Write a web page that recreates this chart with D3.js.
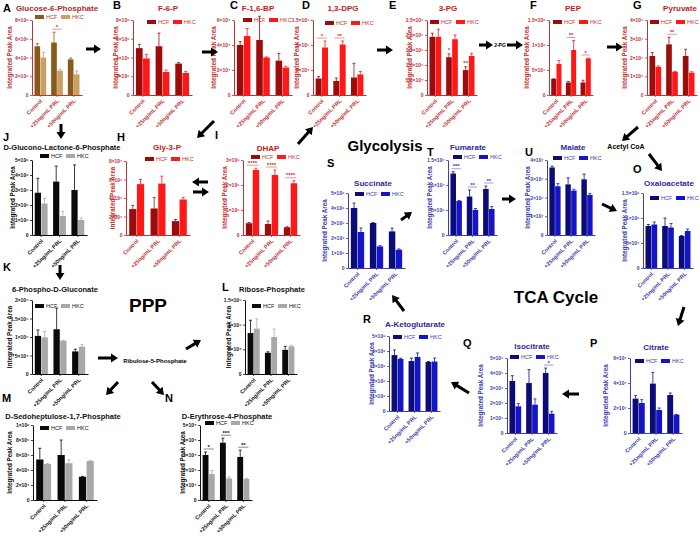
<!DOCTYPE html>
<html>
<head>
<meta charset="utf-8">
<script src="https://cdn.jsdelivr.net/npm/d3@7"></script>
<style>
body { margin: 0; background: #fff; }
svg { display: block; font-family: "Liberation Sans", Arial, sans-serif; }
</style>
</head>
<body>
<svg id="fig" width="700" height="536"></svg>
<script>
// ---- data: rows are [HCF, HKC], columns follow groups ----
const groups = ["Control", "+25ng/mL PRL", "+50ng/mL PRL"];
const seriesNames = ["HCF", "HKC"];

const g6pMean = [[5.2e6, 5.6e6, 3.8e6], [4.0e6, 2.6e6, 2.2e6]];
const g6pSem = [[0.3e6, 1.1e6, 0.15e6], [0.55e6, 0.15e6, 0.35e6]];
const g6pTicks = [0, 2e6, 4e6, 6e6, 8e6];
const g6pLabels = ["0", "2×10⁶", "4×10⁶", "6×10⁶", "8×10⁶"];
const g6pStars = ["", "*", ""];

const f6pMean = [[5.0e6, 5.2e6, 3.35e6], [3.9e6, 2.45e6, 2.35e6]];
const f6pSem = [[0.4e6, 1.4e6, 0.1e6], [0.45e6, 0.2e6, 0.15e6]];
const f6pTicks = [0, 2e6, 4e6, 6e6, 8e6];
const f6pLabels = ["0", "2×10⁶", "4×10⁶", "6×10⁶", "8×10⁶"];

const fbpMean = [[4.0e4, 4.4e4, 2.75e4], [4.72e4, 3.0e4, 2.2e4]];
const fbpSem = [[0.27e4, 1.9e4, 0.58e4], [0.6e4, 0.05e4, 0.1e4]];
const fbpTicks = [0, 2e4, 4e4, 6e4];
const fbpLabels = ["0", "2×10⁴", "4×10⁴", "6×10⁴"];

const dpgMean = [[3.3e4, 2.8e4, 3.5e4], [9.5e4, 1.01e5, 4.1e4]];
const dpgSem = [[0.4e4, 0.6e4, 2.85e4], [1.3e4, 0.7e4, 0.6e4]];
const dpgTicks = [0, 5e4, 1e5, 1.5e5];
const dpgLabels = ["0", "5×10⁴", "1×10⁵", "1.5×10⁵"];
const dpgStars = ["*", "**", ""];

const pg3Mean = [[1.94e5, 1.26e5, 0.83e5], [1.94e5, 1.86e5, 1.30e5]];
const pg3Sem = [[0.12e5, 0.11e5, 0.11e5], [0.25e5, 0.14e5, 0.09e5]];
const pg3Ticks = [0, 5e4, 1e5, 1.5e5, 2e5, 2.5e5];
const pg3Labels = ["0", "5.0×10⁴", "1.0×10⁵", "1.5×10⁵", "2.0×10⁵", "2.5×10⁵"];
const pg3Stars = ["", "*", "**"];

const pepMean = [[3.2e5, 2.5e5, 2.5e5], [6.2e5, 9.0e5, 7.3e5]];
const pepSem = [[0.05e5, 0.2e5, 0.45e5], [0.7e5, 1.9e5, 0.1e5]];
const pepTicks = [0, 5e5, 1e6, 1.5e6];
const pepLabels = ["0", "5×10⁵", "1×10⁶", "1.5×10⁶"];
const pepStars = ["", "**", "*"];

const pyrMean = [[2.08e5, 2.7e5, 2.08e5], [1.5e5, 1.24e5, 1.19e5]];
const pyrSem = [[0.18e5, 0.38e5, 0.36e5], [0.05e5, 0.02e5, 0.05e5]];
const pyrTicks = [0, 1e5, 2e5, 3e5, 4e5];
const pyrLabels = ["0", "1×10⁵", "2×10⁵", "3×10⁵", "4×10⁵"];
const pyrStars = ["", "**", ""];

const glpMean = [[2.8e5, 2.87e5, 1.5e5], [5.5e5, 5.56e5, 3.84e5]];
const glpSem = [[0.4e5, 1.2e5, 0.18e5], [0.5e5, 0.8e5, 0.2e5]];
const glpTicks = [0, 2e5, 4e5, 6e5, 8e5];
const glpLabels = ["0", "2×10⁵", "4×10⁵", "6×10⁵", "8×10⁵"];

const dhapMean = [[0.47e6, 0.44e6, 0.31e6], [2.6e6, 2.4e6, 2.07e6]];
const dhapSem = [[0.03e6, 0.12e6, 0.02e6], [0.07e6, 0.2e6, 0.1e6]];
const dhapTicks = [0, 1e6, 2e6, 3e6];
const dhapLabels = ["0", "1×10⁶", "2×10⁶", "3×10⁶"];
const dhapStars = ["****", "****", "****"];

const gluMean = [[2.82e6, 3.56e6, 3.0e6], [2.1e6, 1.27e6, 1.0e6]];
const gluSem = [[0.96e6, 1.04e6, 1.67e6], [0.34e6, 0.29e6, 0.12e6]];
const gluTicks = [0, 1e6, 2e6, 3e6, 4e6, 5e6];
const gluLabels = ["0", "1×10⁶", "2×10⁶", "3×10⁶", "4×10⁶", "5×10⁶"];

const pgnMean = [[1.03e5, 1.21e5, 0.61e5], [0.99e5, 0.9e5, 0.74e5]];
const pgnSem = [[0.16e5, 0.57e5, 0.06e5], [0.16e5, 0.01e5, 0.06e5]];
const pgnTicks = [0, 5e4, 1e5, 1.5e5, 2e5];
const pgnLabels = ["0", "5×10⁴", "1×10⁵", "1.5×10⁵", "2×10⁵"];

const ribMean = [[8.3e4, 4.3e4, 4.9e4], [9.2e4, 7.5e4, 5.6e4]];
const ribSem = [[2.6e4, 0.2e4, 0.7e4], [2.0e4, 1.6e4, 0.2e4]];
const ribTicks = [0, 5e4, 1e5, 1.5e5];
const ribLabels = ["0", "5×10⁴", "1×10⁵", "1.5×10⁵"];

const sedMean = [[5.4e5, 6.0e5, 3.1e5], [4.8e5, 4.9e5, 5.2e5]];
const sedSem = [[1.5e5, 2.0e5, 0.05e5], [0.05e5, 0.45e5, 0.1e5]];
const sedTicks = [0, 2e5, 4e5, 6e5, 8e5, 1e6];
const sedLabels = ["0", "2×10⁵", "4×10⁵", "6×10⁵", "8×10⁵", "1×10⁶"];

const eryMean = [[3.0e4, 3.82e4, 2.87e4], [1.73e4, 1.44e4, 1.4e4]];
const erySem = [[0.2e4, 0.3e4, 0.45e4], [0.23e4, 0.1e4, 0.05e4]];
const eryTicks = [0, 1e4, 2e4, 3e4, 4e4, 5e4];
const eryLabels = ["0", "1×10⁴", "2×10⁴", "3×10⁴", "4×10⁴", "5×10⁴"];
const eryStars = ["*", "***", "**"];

const sucMean = [[4.0e6, 3.0e6, 2.44e6], [2.4e6, 1.44e6, 1.22e6]];
const sucSem = [[0.33e6, 0.03e6, 0.22e6], [0.27e6, 0.05e6, 0.05e6]];
const sucTicks = [0, 1e6, 2e6, 3e6, 4e6, 5e6];
const sucLabels = ["0", "1×10⁶", "2×10⁶", "3×10⁶", "4×10⁶", "5×10⁶"];

const fumMean = [[1.23e7, 7.7e6, 9.2e6], [6.8e6, 5.0e6, 5.2e6]];
const fumSem = [[0.35e6, 1.3e6, 0.6e6], [0.1e6, 0.3e6, 0.5e6]];
const fumTicks = [0, 5e6, 1e7, 1.5e7];
const fumLabels = ["0", "5×10⁶", "1×10⁷", "1.5×10⁷"];
const fumStars = ["***", "**", "**"];

const malMean = [[3.6e7, 2.7e7, 2.97e7], [2.6e7, 2.37e7, 2.14e7]];
const malSem = [[0.07e7, 0.35e7, 0.28e7], [0.14e7, 0.07e7, 0.08e7]];
const malTicks = [0, 1e7, 2e7, 3e7, 4e7];
const malLabels = ["0", "1×10⁷", "2×10⁷", "3×10⁷", "4×10⁷"];

const oaaMean = [[0.84e6, 0.84e6, 0.64e6], [0.87e6, 0.81e6, 0.74e6]];
const oaaSem = [[0.03e6, 0.16e6, 0.01e6], [0.05e6, 0.08e6, 0.04e6]];
const oaaTicks = [0, 5e5, 1e6, 1.5e6];
const oaaLabels = ["0", "5×10⁵", "1×10⁶", "1.5×10⁶"];

const citMean = [[2.75e7, 3.95e7, 3.04e7], [2.4e7, 1.84e7, 1.47e7]];
const citSem = [[0.24e7, 0.9e7, 0.16e7], [0.27e7, 0.16e7, 0.02e7]];
const citTicks = [0, 2e7, 4e7, 6e7];
const citLabels = ["0", "2×10⁷", "4×10⁷", "6×10⁷"];

const iciMean = [[3.47e5, 3.33e5, 4.0e5], [1.78e5, 1.89e5, 1.29e5]];
const iciSem = [[0.35e5, 0.89e5, 0.33e5], [0.18e5, 0.38e5, 0.15e5]];
const iciTicks = [0, 1e5, 2e5, 3e5, 4e5, 5e5];
const iciLabels = ["0", "1×10⁵", "2×10⁵", "3×10⁵", "4×10⁵", "5×10⁵"];
const iciStars = ["", "", "*"];

const akgMean = [[3.73e6, 3.33e6, 3.27e6], [3.47e6, 3.6e6, 3.3e6]];
const akgSem = [[0.34e6, 0.2e6, 0.03e6], [0.05e6, 0.27e6, 0.23e6]];
const akgTicks = [0, 1e6, 2e6, 3e6, 4e6, 5e6];
const akgLabels = ["0", "1×10⁶", "2×10⁶", "3×10⁶", "4×10⁶", "5×10⁶"];

// ---- styling ----
const themes = {
  brown: { hcf: "#8a5a1c", hkc: "#c9a062", axis: "#b03a3a", text: "#b03a3a", title: "#b02a2a", tsize: 8 },
  red:   { hcf: "#9e0b0b", hkc: "#ff1818", axis: "#c43030", text: "#c43030", title: "#c42020", tsize: 8 },
  black: { hcf: "#0a0a0a", hkc: "#a8a8a8", axis: "#111", text: "#111", title: "#111", tsize: 7.5 },
  blue:  { hcf: "#0c0c78", hkc: "#1414c8", axis: "#3c3caa", text: "#3c3caa", title: "#2c2c9a", tsize: 8 }
};

const panels = [
  { id: "A", title: "Glucose-6-Phosphate", mean: g6pMean, sem: g6pSem, ticks: g6pTicks, labels: g6pLabels, stars: g6pStars, theme: "brown",
    ax: 32, top: 20, bottom: 95, right: 82, tx: 57, ty: 8, lx: 3, ly: 8, ylx: 10, legX: 35, legY: 17 },
  { id: "B", title: "F-6-P", mean: f6pMean, sem: f6pSem, ticks: f6pTicks, labels: f6pLabels, theme: "red",
    ax: 133, top: 20, bottom: 95, right: 192, tx: 168, ty: 8, lx: 113, ly: 5, ylx: 116, legX: 147, legY: 22 },
  { id: "C", title: "F-1,6-BP", mean: fbpMean, sem: fbpSem, ticks: fbpTicks, labels: fbpLabels, theme: "red",
    ax: 234, top: 20, bottom: 95, right: 292, tx: 258, ty: 8, lx: 230, ly: 5, ylx: 214, legX: 243, legY: 20 },
  { id: "D", title: "1,3-DPG", mean: dpgMean, sem: dpgSem, ticks: dpgTicks, labels: dpgLabels, stars: dpgStars, theme: "red",
    ax: 313, top: 20, bottom: 95, right: 366, tx: 343, ty: 8, lx: 302, ly: 5, ylx: 297, legX: 325, legY: 23 },
  { id: "E", title: "3-PG", mean: pg3Mean, sem: pg3Sem, ticks: pg3Ticks, labels: pg3Labels, stars: pg3Stars, starMode: "hcf", theme: "red",
    ax: 427, top: 20, bottom: 95, right: 477, tx: 448, ty: 8, lx: 389, ly: 5, ylx: 410, legX: 430, legY: 22 },
  { id: "F", title: "PEP", mean: pepMean, sem: pepSem, ticks: pepTicks, labels: pepLabels, stars: pepStars, theme: "red",
    ax: 549, top: 20, bottom: 95, right: 593, tx: 573, ty: 8, lx: 530, ly: 5, ylx: 527, legX: 553, legY: 22 },
  { id: "G", title: "Pyruvate", mean: pyrMean, sem: pyrSem, ticks: pyrTicks, labels: pyrLabels, stars: pyrStars, theme: "red",
    ax: 647, top: 20, bottom: 95, right: 697, tx: 680, ty: 8, lx: 633, ly: 5, ylx: 625, legX: 650, legY: 22 },
  { id: "J", title: "D-Glucono-Lactone-6-Phosphate", mean: gluMean, sem: gluSem, ticks: gluTicks, labels: gluLabels, theme: "black",
    ax: 32, top: 160, bottom: 235, right: 87, tx: 62, ty: 147, lx: 3, ly: 137, ylx: 13, legX: 40, legY: 156 },
  { id: "H", title: "Gly-3-P", mean: glpMean, sem: glpSem, ticks: glpTicks, labels: glpLabels, theme: "red",
    ax: 126, top: 161, bottom: 235, right: 190, tx: 167, ty: 147, lx: 117, ly: 137, ylx: 113, legX: 145, legY: 159 },
  { id: "I", title: "DHAP", mean: dhapMean, sem: dhapSem, ticks: dhapTicks, labels: dhapLabels, stars: dhapStars, theme: "red",
    ax: 243, top: 160, bottom: 235, right: 300, tx: 268, ty: 148, lx: 215, ly: 135, ylx: 225, legX: 251, legY: 157 },
  { id: "S", title: "Succinate", mean: sucMean, sem: sucSem, ticks: sucTicks, labels: sucLabels, theme: "blue",
    ax: 348, top: 193, bottom: 268, right: 405, tx: 373, ty: 183, lx: 327, ly: 163, ylx: 325, legX: 355, legY: 194 },
  { id: "T", title: "Fumarate", mean: fumMean, sem: fumSem, ticks: fumTicks, labels: fumLabels, stars: fumStars, theme: "blue",
    ax: 448, top: 160, bottom: 235, right: 497, tx: 468, ty: 147, lx: 427, ly: 152, ylx: 430, legX: 453, legY: 157 },
  { id: "U", title: "Malate", mean: malMean, sem: malSem, ticks: malTicks, labels: malLabels, theme: "blue",
    ax: 547, top: 160, bottom: 235, right: 595, tx: 573, ty: 147, lx: 525, ly: 152, ylx: 528, legX: 553, legY: 158 },
  { id: "O", title: "Oxaloacetate", mean: oaaMean, sem: oaaSem, ticks: oaaTicks, labels: oaaLabels, theme: "blue",
    ax: 643, top: 193, bottom: 268, right: 693, tx: 669, ty: 183, lx: 633, ly: 169, ylx: 625, legX: 650, legY: 198 },
  { id: "K", title: "6-Phospho-D-Gluconate", mean: pgnMean, sem: pgnSem, ticks: pgnTicks, labels: pgnLabels, theme: "black",
    ax: 32, top: 300, bottom: 374, right: 88, tx: 55, ty: 289, lx: 3, ly: 267, ylx: 10, legX: 35, legY: 306 },
  { id: "L", title: "Ribose-Phosphate", mean: ribMean, sem: ribSem, ticks: ribTicks, labels: ribLabels, theme: "black",
    ax: 245, top: 300, bottom: 374, right: 297, tx: 272, ty: 289, lx: 222, ly: 287, ylx: 229, legX: 252, legY: 306 },
  { id: "R", title: "A-Ketoglutarate", mean: akgMean, sem: akgSem, ticks: akgTicks, labels: akgLabels, theme: "blue",
    ax: 389, top: 336, bottom: 411, right: 440, tx: 415, ty: 324, lx: 363, ly: 319, ylx: 372, legX: 393, legY: 337 },
  { id: "Q", title: "Isocitrate", mean: iciMean, sem: iciSem, ticks: iciTicks, labels: iciLabels, stars: iciStars, theme: "blue",
    ax: 507, top: 358, bottom: 433, right: 557, tx: 532, ty: 346, lx: 463, ly: 343, ylx: 481, legX: 510, legY: 357 },
  { id: "P", title: "Citrate", mean: citMean, sem: citSem, ticks: citTicks, labels: citLabels, theme: "blue",
    ax: 630, top: 358, bottom: 433, right: 682, tx: 656, ty: 347, lx: 590, ly: 343, ylx: 606, legX: 635, legY: 361 },
  { id: "M", title: "D-Sedoheptulose-1,7-Phosphate", mean: sedMean, sem: sedSem, ticks: sedTicks, labels: sedLabels, theme: "black",
    ax: 33, top: 425, bottom: 500, right: 97, tx: 63, ty: 416, lx: 2, ly: 398, ylx: 10, legX: 40, legY: 428 },
  { id: "N", title: "D-Erythrose-4-Phosphate", mean: eryMean, sem: erySem, ticks: eryTicks, labels: eryLabels, stars: eryStars, theme: "black",
    ax: 200, top: 425, bottom: 500, right: 252, tx: 227, ty: 416, lx: 165, ly: 398, ylx: 183, legX: 205, legY: 423 }
];

const svg = d3.select("#fig");

function drawPanel(p) {
  const th = themes[p.theme];
  const g = svg.append("g");
  const y = d3.scaleLinear().domain([0, d3.max(p.ticks)]).range([p.bottom, p.top]);
  const x0 = d3.scaleBand().domain(groups).range([p.ax, p.right]).paddingInner(0.3).paddingOuter(0.15);
  const x1 = d3.scaleBand().domain(seriesNames).range([0, x0.bandwidth()]).paddingInner(0.06);

  seriesNames.forEach((s, si) => {
    const col = si === 0 ? th.hcf : th.hkc;
    const rows = groups.map((grp, gi) => ({ grp: grp, mean: p.mean[si][gi], sem: p.sem[si][gi] }));
    g.selectAll(null).data(rows).join("rect")
      .attr("x", d => x0(d.grp) + x1(s))
      .attr("y", d => y(d.mean))
      .attr("width", x1.bandwidth())
      .attr("height", d => y(0) - y(d.mean))
      .attr("fill", col);
    g.selectAll(null).data(rows).join("path")
      .attr("d", d => {
        const cx = x0(d.grp) + x1(s) + x1.bandwidth() / 2;
        const y1 = y(d.mean), y2 = y(d.mean + d.sem);
        return "M" + cx + "," + y1 + "V" + y2 + "M" + (cx - 1.5) + "," + y2 + "H" + (cx + 1.5);
      })
      .attr("stroke", col)
      .attr("stroke-width", 0.8)
      .attr("fill", "none");
  });

  // significance marks
  if (p.stars) {
    p.stars.forEach((st, gi) => {
      if (!st) return;
      const grp = groups[gi];
      if (p.starMode === "hcf") {
        const cx = x0(grp) + x1("HCF") + x1.bandwidth() / 2;
        g.append("text").text(st)
          .attr("x", cx).attr("y", y(p.mean[0][gi] + p.sem[0][gi]) - 1.5)
          .attr("text-anchor", "middle").attr("fill", th.text)
          .style("font-size", "6px").style("font-weight", "bold");
      } else {
        const top = d3.max([0, 1], si => p.mean[si][gi] + p.sem[si][gi]);
        const yy = y(top) - 3;
        g.append("line")
          .attr("x1", x0(grp) + 1).attr("x2", x0(grp) + x0.bandwidth() - 1)
          .attr("y1", yy).attr("y2", yy)
          .attr("stroke", th.text).attr("stroke-width", 0.5);
        g.append("text").text(st)
          .attr("x", x0(grp) + x0.bandwidth() / 2).attr("y", yy - 0.5)
          .attr("text-anchor", "middle").attr("fill", th.text)
          .style("font-size", "6px").style("font-weight", "bold");
      }
    });
  }

  const ya = g.append("g")
    .attr("transform", "translate(" + p.ax + ",0)")
    .call(d3.axisLeft(y).tickValues(p.ticks).tickFormat((d, i) => p.labels[i]).tickSize(2).tickSizeOuter(0).tickPadding(1.5))
    .attr("font-family", null).attr("font-size", null);
  ya.select(".domain").attr("stroke", th.axis).attr("stroke-width", 1);
  ya.selectAll(".tick line").attr("stroke", th.axis).attr("stroke-width", 0.8);
  ya.selectAll(".tick text").attr("fill", th.text).style("font-size", "5px").style("font-weight", "bold");

  const xa = g.append("g")
    .attr("transform", "translate(0," + p.bottom + ")")
    .call(d3.axisBottom(x0).tickSize(2).tickSizeOuter(0))
    .attr("font-family", null).attr("font-size", null);
  xa.select(".domain").attr("stroke", th.axis).attr("stroke-width", 1);
  xa.selectAll(".tick line").attr("stroke", th.axis).attr("stroke-width", 0.8);
  xa.selectAll(".tick text")
    .attr("x", 0).attr("y", 0).attr("dy", "0.35em")
    .attr("transform", "translate(1,5) rotate(-45)")
    .style("text-anchor", "end")
    .attr("fill", th.text)
    .style("font-size", "5.5px").style("font-weight", "bold");

  // y label
  g.append("text").text("Integrated Peak Area")
    .attr("transform", "translate(" + p.ylx + "," + ((p.top + p.bottom) / 2) + ") rotate(-90)")
    .attr("text-anchor", "middle").attr("dy", "0.35em")
    .attr("fill", th.text)
    .style("font-size", "6.3px").style("font-weight", "bold");

  // title and panel letter
  g.append("text").text(p.title)
    .attr("x", p.tx).attr("y", p.ty).attr("dy", "0.35em")
    .attr("text-anchor", "middle").attr("fill", th.title)
    .style("font-size", th.tsize + "px").style("font-weight", "bold");
  g.append("text").text(p.id)
    .attr("x", p.lx).attr("y", p.ly).attr("dy", "0.35em")
    .attr("fill", "#000")
    .style("font-size", "11px").style("font-weight", "bold");

  // legend
  seriesNames.forEach((s, si) => {
    const lx = p.legX + si * 26;
    g.append("rect")
      .attr("x", lx).attr("y", p.legY - 2)
      .attr("width", 9).attr("height", 4)
      .attr("fill", si === 0 ? th.hcf : th.hkc);
    g.append("text").text(s)
      .attr("x", lx + 11).attr("y", p.legY).attr("dy", "0.35em")
      .attr("fill", th.text)
      .style("font-size", "5.5px");
  });
}

panels.forEach(drawPanel);

// pathway arrows: [x1, y1, x2, y2], tip at (x2, y2)
const arrows = [
  [86, 49, 101, 49], [202, 52, 218, 52], [377, 50, 393, 50], [479, 45, 493, 45], [507, 45, 523, 45],
  [607, 47, 623, 47], [638, 127, 622, 141], [61, 124, 61, 139], [214, 121, 197, 138],
  [208, 182, 192, 182], [193, 192, 209, 192], [298, 144, 313, 127], [60, 265, 60, 280],
  [98, 358, 118, 358], [186, 349, 201, 340], [118, 382, 106, 395], [152, 382, 164, 395],
  [401, 220, 412, 212], [502, 199, 516, 199], [602, 204, 617, 211], [649, 154, 662, 171],
  [684, 307, 678, 326], [579, 394, 562, 394], [469, 393, 451, 382], [404, 311, 392, 295]
];
function arrowPath(a) {
  const dx = a[2] - a[0], dy = a[3] - a[1];
  const len = Math.sqrt(dx * dx + dy * dy);
  const ux = dx / len, uy = dy / len, nx = -uy, ny = ux;
  const hl = 7, hw = 4.5, sw = 1.5;
  const bx = a[2] - ux * hl, by = a[3] - uy * hl;
  const pts = [
    [a[0] + nx * sw, a[1] + ny * sw], [bx + nx * sw, by + ny * sw], [bx + nx * hw, by + ny * hw],
    [a[2], a[3]],
    [bx - nx * hw, by - ny * hw], [bx - nx * sw, by - ny * sw], [a[0] - nx * sw, a[1] - ny * sw]
  ];
  return "M" + pts.map(q => q[0].toFixed(2) + "," + q[1].toFixed(2)).join("L") + "Z";
}
svg.selectAll(null).data(arrows).join("path")
  .attr("d", arrowPath)
  .attr("fill", "#000");

const notes = [
  { t: "Glycolysis", x: 385, y: 146, s: 15 },
  { t: "PPP", x: 148, y: 305, s: 19 },
  { t: "TCA  Cycle", x: 556, y: 297, s: 17 },
  { t: "Ribulose-5-Phosphate", x: 155, y: 361, s: 6 },
  { t: "Acetyl  CoA", x: 626, y: 147, s: 7 },
  { t: "2-PG", x: 500, y: 45, s: 5 }
];
svg.selectAll(null).data(notes).join("text")
  .text(d => d.t)
  .attr("x", d => d.x).attr("y", d => d.y).attr("dy", "0.35em")
  .attr("text-anchor", "middle")
  .style("font-size", d => d.s + "px")
  .style("font-weight", "bold")
  .attr("fill", "#000");
</script>
</body>
</html>
